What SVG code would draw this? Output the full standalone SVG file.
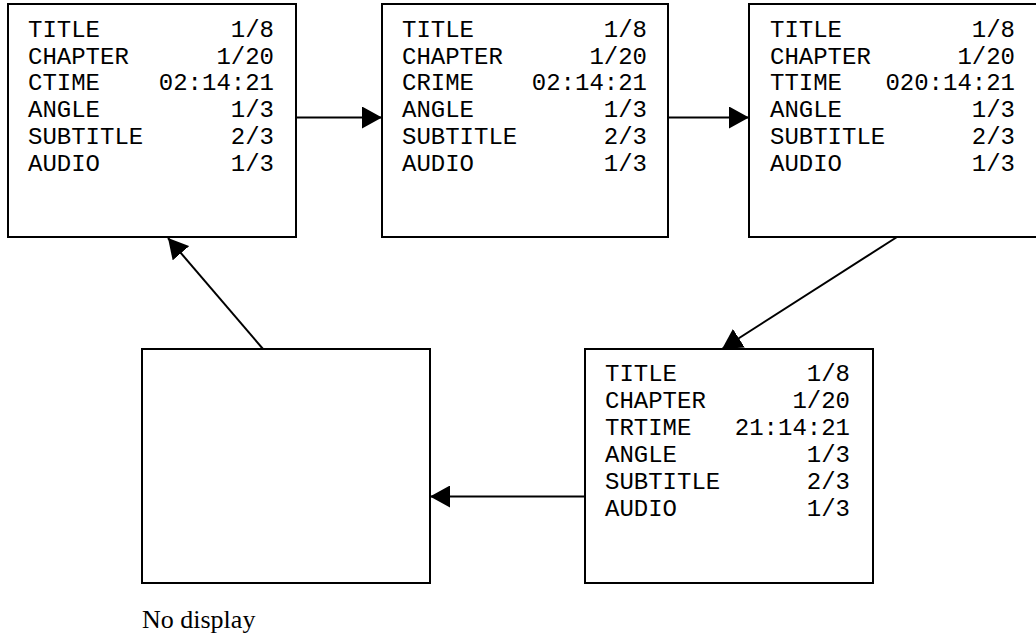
<svg xmlns="http://www.w3.org/2000/svg" width="1036" height="637" viewBox="0 0 1036 637">
<style>
.box{fill:#fff;stroke:#000;stroke-width:2}
.t{font-family:"Courier New","Liberation Mono",monospace;font-size:24px;fill:#000}
.r{text-anchor:end}
.c{stroke:#000;stroke-width:2;fill:none;marker-end:url(#ah)}
.cap{font-family:"Times New Roman","Liberation Serif",serif;font-size:26px;fill:#000}
</style>
<defs>
<marker id="ah" viewBox="0 0 20 22" refX="20" refY="11" markerWidth="20" markerHeight="22" markerUnits="userSpaceOnUse" orient="auto">
<path d="M0,0 L20,11 L0,22 Z" fill="#000"/>
</marker>
</defs>
<rect width="1036" height="637" fill="#fff"/>
<g id="connectors">
<line class="c" x1="296" y1="117.5" x2="382" y2="117.5"/>
<line class="c" x1="668" y1="117.5" x2="749" y2="117.5"/>
<line class="c" x1="897" y1="237" x2="722" y2="349"/>
<line class="c" x1="585" y1="496.5" x2="430" y2="496.5"/>
<line class="c" x1="263" y1="349" x2="168" y2="238"/>
</g>
<g id="node1">
<rect class="box" x="8" y="4" width="288" height="233"/>
<text class="t" x="28" y="37">TITLE</text><text class="t r" x="274" y="37">1/8</text>
<text class="t" x="28" y="63.7">CHAPTER</text><text class="t r" x="274" y="63.7">1/20</text>
<text class="t" x="28" y="90.4">CTIME</text><text class="t r" x="274" y="90.4">02:14:21</text>
<text class="t" x="28" y="117.1">ANGLE</text><text class="t r" x="274" y="117.1">1/3</text>
<text class="t" x="28" y="143.8">SUBTITLE</text><text class="t r" x="274" y="143.8">2/3</text>
<text class="t" x="28" y="170.5">AUDIO</text><text class="t r" x="274" y="170.5">1/3</text>
</g>
<g id="node2">
<rect class="box" x="382" y="4" width="286" height="233"/>
<text class="t" x="402" y="37">TITLE</text><text class="t r" x="647" y="37">1/8</text>
<text class="t" x="402" y="63.7">CHAPTER</text><text class="t r" x="647" y="63.7">1/20</text>
<text class="t" x="402" y="90.4">CRIME</text><text class="t r" x="647" y="90.4">02:14:21</text>
<text class="t" x="402" y="117.1">ANGLE</text><text class="t r" x="647" y="117.1">1/3</text>
<text class="t" x="402" y="143.8">SUBTITLE</text><text class="t r" x="647" y="143.8">2/3</text>
<text class="t" x="402" y="170.5">AUDIO</text><text class="t r" x="647" y="170.5">1/3</text>
</g>
<g id="node3">
<rect class="box" x="749" y="4" width="300" height="233"/>
<text class="t" x="770" y="37">TITLE</text><text class="t r" x="1015" y="37">1/8</text>
<text class="t" x="770" y="63.7">CHAPTER</text><text class="t r" x="1015" y="63.7">1/20</text>
<text class="t" x="770" y="90.4">TTIME</text><text class="t r" x="1015" y="90.4">020:14:21</text>
<text class="t" x="770" y="117.1">ANGLE</text><text class="t r" x="1015" y="117.1">1/3</text>
<text class="t" x="770" y="143.8">SUBTITLE</text><text class="t r" x="1015" y="143.8">2/3</text>
<text class="t" x="770" y="170.5">AUDIO</text><text class="t r" x="1015" y="170.5">1/3</text>
</g>
<g id="node4">
<rect class="box" x="142" y="349" width="288" height="234"/>
<text class="cap" x="142" y="628">No display</text>
</g>
<g id="node5">
<rect class="box" x="585" y="349" width="288" height="234"/>
<text class="t" x="605" y="381">TITLE</text><text class="t r" x="850" y="381">1/8</text>
<text class="t" x="605" y="408">CHAPTER</text><text class="t r" x="850" y="408">1/20</text>
<text class="t" x="605" y="435">TRTIME</text><text class="t r" x="850" y="435">21:14:21</text>
<text class="t" x="605" y="462">ANGLE</text><text class="t r" x="850" y="462">1/3</text>
<text class="t" x="605" y="489">SUBTITLE</text><text class="t r" x="850" y="489">2/3</text>
<text class="t" x="605" y="516">AUDIO</text><text class="t r" x="850" y="516">1/3</text>
</g>
</svg>
